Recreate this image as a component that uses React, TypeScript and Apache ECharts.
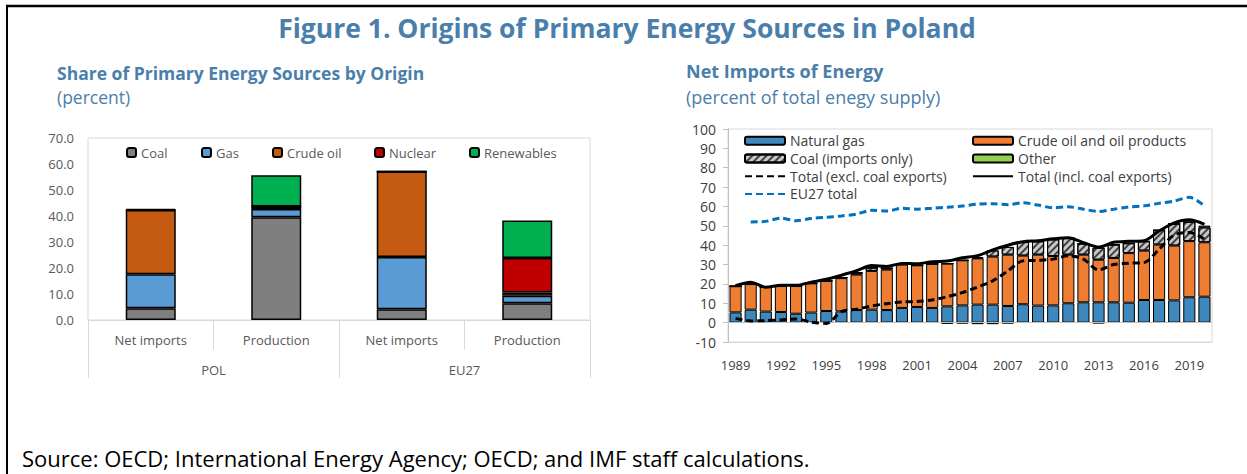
import React, { useEffect, useRef } from "react";
import * as echarts from "echarts";

// ---------- Left chart data ----------
const leftCategories = ["Net imports", "Production", "Net imports", "Production"];
const leftGroups = ["POL", "EU27"];
const leftCoal = [4.5, 39.5, 4.1, 6.4];
const leftGas = [13.1, 3.2, 20.1, 2.9];
const leftOil = [24.7, 1.0, 32.9, 1.3];
const leftNuclear = [0, 0, 0, 13.2];
const leftRenewables = [0.4, 12.0, 0, 14.5];

// ---------- Right chart data ----------
const years = [
  "1989", "1990", "1991", "1992", "1993", "1994", "1995", "1996", "1997", "1998",
  "1999", "2000", "2001", "2002", "2003", "2004", "2005", "2006", "2007", "2008",
  "2009", "2010", "2011", "2012", "2013", "2014", "2015", "2016", "2017", "2018",
  "2019", "2020",
];
const naturalGas = [5.3, 6.7, 5.7, 5.5, 4.6, 5.2, 6.0, 5.8, 6.5, 6.7, 6.5, 7.6, 8.1, 7.6, 8.4, 8.9, 9.3, 9.3, 8.6, 9.5, 8.8, 8.9, 10.0, 10.5, 10.5, 10.5, 10.3, 11.7, 11.7, 11.5, 13.1, 13.4];
const crudeOil = [13.5, 13.2, 12.7, 13.4, 14.3, 15.1, 15.5, 17.2, 18.3, 20.0, 20.9, 22.4, 21.5, 22.7, 22.1, 23.3, 23.9, 24.8, 26.5, 25.1, 26.3, 25.5, 25.1, 24.6, 22.0, 22.9, 25.6, 25.5, 28.6, 28.3, 29.0, 28.1];
const coalImports = [0, 0, 0, 0, 0, 0, 0, 0.3, 1.0, 1.7, 0.8, 0, 0, 0, 0, 0, 0.5, 3.2, 4.0, 7.0, 6.9, 8.6, 8.6, 5.7, 6.2, 6.9, 5.1, 4.8, 7.5, 11.3, 9.9, 7.7];
const otherEnergy = [0, 0, 0, 0, 0, 0, 0, 0, 0, 0, 0, 0, 0, 0, -0.6, -0.4, -0.8, -0.8, -0.4, 0, 0, 0, 0, 0, -0.3, 0, 0, 0, 0, 0, 0, 0.9];
const totalExcl = [2.2, 0.9, 1.0, 1.4, 1.9, 0.3, -0.4, 5.7, 6.9, 8.6, 9.8, 10.7, 10.9, 11.7, 13.4, 15.5, 18.4, 21.6, 26.7, 31.9, 32.2, 32.8, 34.5, 32.8, 27.2, 30.0, 30.7, 31.0, 37.9, 45.2, 46.6, 43.1];
const totalIncl = [19.1, 20.9, 18.3, 19.3, 19.3, 20.9, 22.4, 24.5, 26.8, 29.5, 29.0, 30.6, 30.4, 31.5, 31.8, 33.5, 34.6, 37.6, 40.0, 41.8, 42.3, 43.3, 43.9, 41.3, 39.0, 41.5, 42.0, 42.3, 47.3, 51.5, 53.1, 50.8];
const eu27Total = [null, 52.0, 52.3, 54.0, 52.6, 53.8, 54.4, 55.1, 56.1, 58.0, 57.6, 59.1, 58.6, 59.1, 59.6, 60.2, 61.2, 61.4, 60.9, 61.9, 60.7, 59.3, 59.8, 58.6, 57.4, 58.6, 59.7, 60.3, 61.6, 62.8, 64.7, 60.3];

const FONT = '"Open Sans", "Noto Sans", sans-serif';
const BLUE_TITLE = "#4A7EAB";

export default function App() {
  const ref = useRef<HTMLDivElement>(null);

  useEffect(() => {
    if (!ref.current) return;
    const chart = echarts.init(ref.current, undefined, { renderer: "svg" });

    const leftBar = (name: string, data: number[], color: string) => ({
      name,
      type: "bar",
      stack: "left",
      xAxisIndex: 0,
      yAxisIndex: 0,
      barWidth: 50,
      data,
      itemStyle: { color, borderColor: "#000", borderWidth: 1.5 },
    });

    const rightBar = (name: string, data: number[], color: string, decal?: any) => ({
      name,
      type: "bar",
      stack: "right",
      xAxisIndex: 2,
      yAxisIndex: 1,
      barCategoryGap: "20%",
      data,
      itemStyle: decal
        ? { color, borderColor: "#000", borderWidth: 1, decal }
        : { color, borderColor: "#000", borderWidth: 1 },
    });

    const rightLine = (name: string, data: any[], color: string, type: any) => ({
      name,
      type: "line",
      xAxisIndex: 2,
      yAxisIndex: 1,
      data,
      symbol: "none",
      smooth: 0.3,
      z: 5,
      lineStyle: { color, width: 3, type },
      itemStyle: { color },
    });

    const leftLegendPos: [string, number][] = [
      ["Coal", 126],
      ["Gas", 201],
      ["Crude oil", 272],
      ["Nuclear", 374],
      ["Renewables", 469],
    ];

    const lineItem = (name: string) => ({ name, itemStyle: { opacity: 0 } });

    const option: any = {
      animation: false,
      textStyle: { fontFamily: FONT },
      legend: [
        ...leftLegendPos.map(([name, x]) => ({
          data: [name],
          left: x,
          top: 146,
          padding: 0,
          itemWidth: 9,
          itemHeight: 9,
          itemGap: 0,
          textStyle: { color: "#595959", fontSize: 13, fontFamily: FONT },
        })),
        {
          data: ["Natural gas", "Coal (imports only)", lineItem("Total (excl. coal exports)"), lineItem("EU27 total")],
          orient: "vertical",
          left: 744,
          top: 132,
          padding: 0,
          itemGap: 0,
          itemWidth: 40,
          itemHeight: 8,
          textStyle: { color: "#404040", fontSize: 14, lineHeight: 17.7, fontFamily: FONT },
        },
        {
          data: ["Crude oil and oil products", "Other", lineItem("Total (incl. coal exports)")],
          orient: "vertical",
          left: 972,
          top: 132,
          padding: 0,
          itemGap: 0,
          itemWidth: 40,
          itemHeight: 8,
          textStyle: { color: "#404040", fontSize: 14, lineHeight: 17.7, fontFamily: FONT },
        },
      ],
      grid: [
        { left: 88, top: 138, width: 502, height: 182, show: true, borderColor: "#D9D9D9", borderWidth: 1 },
        { left: 728, top: 129, width: 484, height: 213, show: true, borderColor: "#D9D9D9", borderWidth: 1 },
      ],
      xAxis: [
        {
          type: "category",
          gridIndex: 0,
          data: leftCategories,
          axisLine: { lineStyle: { color: "#D9D9D9" } },
          axisTick: { show: true, length: 30, lineStyle: { color: "#D9D9D9" } },
          axisLabel: { color: "#595959", fontSize: 13, margin: 13 },
        },
        {
          type: "category",
          gridIndex: 0,
          position: "bottom",
          offset: 30,
          data: leftGroups,
          axisLine: { show: false },
          axisTick: { show: true, length: 28, lineStyle: { color: "#D9D9D9" } },
          axisLabel: { color: "#595959", fontSize: 13, margin: 13 },
        },
        {
          type: "category",
          gridIndex: 1,
          data: years,
          axisLine: { onZero: false, lineStyle: { color: "#D9D9D9" } },
          axisTick: { show: false },
          axisLabel: { color: "#404040", fontSize: 13, margin: 16, interval: 2 },
        },
      ],
      yAxis: [
        {
          type: "value",
          gridIndex: 0,
          min: 0,
          max: 70,
          interval: 10,
          axisLine: { show: false },
          axisTick: { show: false },
          splitLine: { show: false },
          axisLabel: { color: "#595959", fontSize: 13, margin: 14, formatter: (v: number) => v.toFixed(1) },
        },
        {
          type: "value",
          gridIndex: 1,
          min: -10,
          max: 100,
          interval: 10,
          axisLine: { show: true, lineStyle: { color: "#BFBFBF" } },
          axisTick: { show: true, length: 5, lineStyle: { color: "#BFBFBF" } },
          splitLine: { show: false },
          axisLabel: { color: "#404040", fontSize: 14, margin: 12 },
        },
      ],
      series: [
        leftBar("Coal", leftCoal, "#7F7F7F"),
        leftBar("Gas", leftGas, "#5B9BD5"),
        leftBar("Crude oil", leftOil, "#C55A11"),
        leftBar("Nuclear", leftNuclear, "#C00000"),
        leftBar("Renewables", leftRenewables, "#00B050"),
        {
          ...rightBar("Natural gas", naturalGas, "#3F88BD"),
          markLine: {
            silent: true,
            symbol: "none",
            label: { show: false },
            lineStyle: { color: "#BFBFBF", type: "solid", width: 1 },
            data: [{ yAxis: 0 }],
          },
        },
        rightBar("Crude oil and oil products", crudeOil, "#EF7D31"),
        rightBar("Coal (imports only)", coalImports, "#C8C8C8", {
          symbol: "rect",
          symbolSize: 1,
          color: "rgba(40,40,40,0.85)",
          dashArrayX: [1, 0],
          dashArrayY: [1.5, 3],
          rotation: -Math.PI / 4,
        }),
        rightBar("Other", otherEnergy, "#92D050"),
        rightLine("Total (excl. coal exports)", totalExcl, "#000000", [7, 4]),
        rightLine("Total (incl. coal exports)", totalIncl, "#000000", "solid"),
        rightLine("EU27 total", eu27Total, "#0070C0", [7, 4]),
      ],
      graphic: [
        { type: "line", shape: { x1: 6, y1: 6, x2: 1247, y2: 6 }, style: { stroke: "#000", lineWidth: 2.5 } },
        { type: "line", shape: { x1: 7, y1: 5, x2: 7, y2: 474 }, style: { stroke: "#000", lineWidth: 2 } },
        {
          type: "text",
          x: 627,
          y: 28,
          style: {
            text: "Figure 1. Origins of Primary Energy Sources in Poland",
            font: `bold 26.5px ${FONT}`,
            fill: BLUE_TITLE,
            textAlign: "center",
            textVerticalAlign: "middle",
          },
        },
        {
          type: "text",
          x: 57,
          y: 73,
          style: {
            text: "Share of Primary Energy Sources by Origin",
            font: `bold 17.5px ${FONT}`,
            fill: BLUE_TITLE,
            textAlign: "left",
            textVerticalAlign: "middle",
          },
        },
        {
          type: "text",
          x: 57,
          y: 97,
          style: {
            text: "(percent)",
            font: `17.5px ${FONT}`,
            fill: BLUE_TITLE,
            textAlign: "left",
            textVerticalAlign: "middle",
          },
        },
        {
          type: "text",
          x: 686,
          y: 71,
          style: {
            text: "Net Imports of Energy",
            font: `bold 18px ${FONT}`,
            fill: BLUE_TITLE,
            textAlign: "left",
            textVerticalAlign: "middle",
          },
        },
        {
          type: "text",
          x: 686,
          y: 97,
          style: {
            text: "(percent of total enegy supply)",
            font: `18px ${FONT}`,
            fill: BLUE_TITLE,
            textAlign: "left",
            textVerticalAlign: "middle",
          },
        },
        {
          type: "text",
          x: 22,
          y: 458,
          style: {
            text: "Source: OECD; International Energy Agency; OECD; and IMF staff calculations.",
            font: `22px ${FONT}`,
            fill: "#000",
            textAlign: "left",
            textVerticalAlign: "middle",
          },
        },
      ],
    };

    chart.setOption(option);
    return () => chart.dispose();
  }, []);

  return (
    <div
      ref={ref}
      style={{ position: "fixed", left: 0, top: 0, width: 1247, height: 474, background: "#fff" }}
    />
  );
}
